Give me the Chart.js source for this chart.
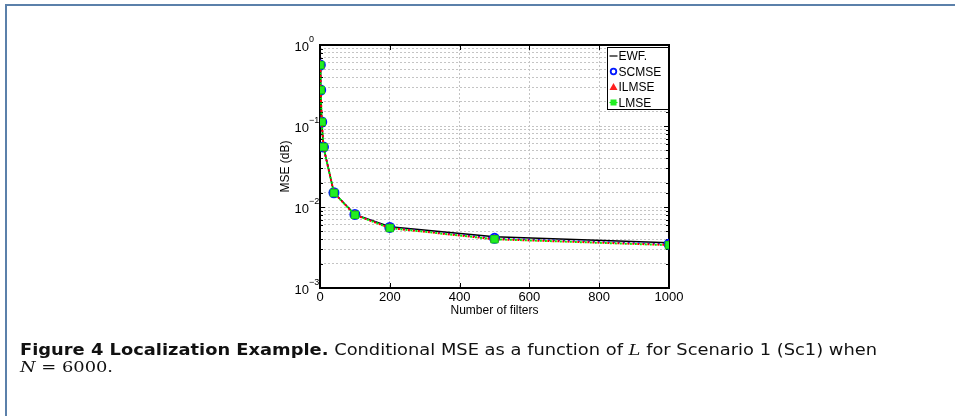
<!DOCTYPE html>
<html><head><meta charset="utf-8">
<script src="https://cdn.jsdelivr.net/npm/chart.js@4"></script>
<style>
html,body{margin:0;padding:0;background:#fff}
body{width:955px;height:416px;overflow:hidden;position:relative}
#ftop{position:absolute;left:5px;top:4px;width:950px;height:2px;background:#5b80aa}
#fleft{position:absolute;left:5px;top:4px;width:2px;height:412px;background:#5b80aa}
#wrap{position:absolute;left:0;top:0;width:955px;height:416px}
#cap{position:absolute;left:20px;top:342px;font-family:"DejaVu Sans",sans-serif;font-size:15px;line-height:17px;color:#111;white-space:nowrap}
#cap div{transform-origin:0 0;display:inline-block}
#cap b{font-weight:bold}
.m{font-family:"DejaVu Serif",serif;font-style:italic}
.r{font-family:"DejaVu Serif",serif}
</style></head>
<body>
<div id="ftop"></div><div id="fleft"></div>
<div id="wrap"><canvas id="c" width="955" height="416"></canvas></div>
<div id="cap"><div id="l1"><b>Figure 4 Localization Example.</b> Conditional MSE as a function of <span class="m">L</span> for Scenario 1 (Sc1) when</div><br><div id="l2"><span class="m">N</span> <span class="r">= 6000.</span></div></div>
<script>
const filters = [1, 2, 5, 10, 40, 100, 200, 500, 1000];
const ewf   = [0.566, 0.278, 0.112, 0.055, 0.0150, 0.0081, 0.0057, 0.00428, 0.00362];
const scmse = [0.566, 0.278, 0.112, 0.055, 0.0150, 0.0081, 0.0056, 0.00410, 0.00348];
const ilmse = [0.566, 0.278, 0.112, 0.055, 0.0149, 0.0080, 0.0055, 0.00400, 0.00340];
const lmse  = [0.566, 0.278, 0.112, 0.055, 0.0149, 0.0080, 0.0055, 0.00400, 0.00338];
const seriesNames = ['EWF.', 'SCMSE', 'ILMSE', 'LMSE'];
const xTicks = [0, 200, 400, 600, 800, 1000];
const yDecades = [0, -1, -2, -3];

(function(){
  const l1 = document.getElementById('l1'), l2 = document.getElementById('l2');
  const k = 857 / l1.getBoundingClientRect().width;
  l1.style.transform = 'scaleX(' + k + ')';
  l2.style.transform = 'scaleX(' + k + ')';
})();

const pts = arr => filters.map((x, i) => ({x: x, y: arr[i]}));

const framePlugin = {
  id: 'frame',
  beforeDatasetsDraw(chart) {
    const {ctx, chartArea: a, scales} = chart;
    ctx.save();
    ctx.strokeStyle = '#000';
    ctx.lineWidth = 1;
    scales.y.ticks.forEach(t => {
      const y = Math.round(scales.y.getPixelForValue(t.value)) + 0.5;
      const major = Math.abs(Math.log10(t.value) - Math.round(Math.log10(t.value))) < 1e-6;
      const len = major ? 5 : 3;
      ctx.beginPath();
      ctx.moveTo(a.left, y); ctx.lineTo(a.left + len, y);
      ctx.moveTo(a.right, y); ctx.lineTo(a.right - len, y);
      ctx.stroke();
    });
    xTicks.forEach(v => {
      const x = Math.round(scales.x.getPixelForValue(v)) + 0.5;
      ctx.beginPath();
      ctx.moveTo(x, a.bottom); ctx.lineTo(x, a.bottom - 5);
      ctx.moveTo(x, a.top); ctx.lineTo(x, a.top + 5);
      ctx.stroke();
    });
    ctx.lineWidth = 2;
    ctx.strokeRect(a.left, a.top, a.right - a.left, a.bottom - a.top);
    ctx.restore();
  },
  afterDraw(chart) {
    const {ctx, scales} = chart;
    ctx.save();
    ctx.fillStyle = '#000';
    yDecades.forEach(k => {
      const y = scales.y.getPixelForValue(Math.pow(10, k));
      ctx.font = '13px "Liberation Sans", Arial, sans-serif';
      ctx.textAlign = 'right'; ctx.textBaseline = 'middle';
      ctx.fillText('10', 309, y + 2);
      ctx.font = '9px "Liberation Sans", Arial, sans-serif';
      ctx.textAlign = 'left';
      ctx.fillText(k === 0 ? '0' : '\u2212' + (-k), 309, y - 5);
    });
    const lx = 607.5, ly = 47.5, lw = 61, lh = 62;
    ctx.fillStyle = '#fff';
    ctx.fillRect(lx, ly, lw, lh);
    ctx.strokeStyle = '#000'; ctx.lineWidth = 1;
    ctx.strokeRect(lx, ly, lw, lh);
    ctx.font = '12px "Liberation Sans", Arial, sans-serif';
    ctx.textBaseline = 'middle'; ctx.textAlign = 'left';
    chart.data.datasets.forEach((ds, i) => {
      const cy = ly + 8.5 + i * 15.5;
      const mx = lx + 6;
      ctx.save();
      if (i === 0) {
        ctx.strokeStyle = '#000'; ctx.lineWidth = 1.2;
        ctx.beginPath(); ctx.moveTo(lx + 2, cy); ctx.lineTo(lx + 10, cy); ctx.stroke();
      } else if (i === 1) {
        ctx.strokeStyle = ds.pointBorderColor; ctx.lineWidth = 1.8;
        ctx.beginPath(); ctx.arc(mx, cy, 2.8, 0, Math.PI * 2); ctx.stroke();
      } else if (i === 2) {
        ctx.fillStyle = ds.pointBackgroundColor;
        ctx.beginPath(); ctx.moveTo(mx, cy - 4); ctx.lineTo(mx + 4, cy + 3); ctx.lineTo(mx - 4, cy + 3); ctx.closePath(); ctx.fill();
      } else {
        ctx.strokeStyle = ds.borderColor; ctx.lineWidth = 1.2;
        ctx.beginPath(); ctx.moveTo(lx + 2, cy); ctx.lineTo(lx + 10, cy); ctx.stroke();
        ctx.fillStyle = ds.pointBackgroundColor; ctx.fillRect(mx - 3, cy - 3, 6, 6);
      }
      ctx.restore();
      ctx.fillStyle = '#000';
      ctx.fillText(ds.label, lx + 11, cy + 1);
    });
    ctx.restore();
  }
};

new Chart(document.getElementById('c'), {
  type: 'line',
  data: {
    datasets: [
      {label: seriesNames[0], data: pts(ewf), borderColor: '#000', borderWidth: 1.5, pointRadius: 0, fill: false, order: 4},
      {label: seriesNames[1], data: pts(scmse), borderColor: '#0018ff', backgroundColor: 'rgba(0,0,0,0)', pointBackgroundColor: 'rgba(0,0,0,0)', borderWidth: 1.5, borderDash: [2, 3], pointStyle: 'circle', pointRadius: 4.5, pointBorderWidth: 2, pointBorderColor: '#0018ff', order: 3},
      {label: seriesNames[2], data: pts(ilmse), borderColor: '#ff0000', pointBackgroundColor: '#ff2020', pointBorderColor: '#ff2020', borderWidth: 2, borderDash: [2, 3], borderDashOffset: 0, pointStyle: 'triangle', pointRadius: 4.5, pointBorderWidth: 1, order: 2},
      {label: seriesNames[3], data: pts(lmse), borderColor: '#00ee00', pointBackgroundColor: '#22ee22', pointBorderColor: '#11cc11', borderWidth: 2, borderDash: [2, 3], borderDashOffset: 2.5, pointStyle: 'rect', pointRadius: 5.2, pointBorderWidth: 1, order: 1}
    ]
  },
  options: {
    responsive: false,
    animation: false,
    devicePixelRatio: 1,
    layout: {padding: {left: 278, right: 286, top: 45, bottom: 98}},
    plugins: {legend: {display: false}, tooltip: {enabled: false}},
    elements: {line: {tension: 0}},
    scales: {
      x: {
        type: 'linear', min: 0, max: 1000,
        afterFit: s => { s.height = 30; },
        afterBuildTicks: s => { s.ticks = xTicks.map(v => ({value: v})); },
        grid: {color: '#c4c4c4', lineWidth: 1, drawTicks: false},
        border: {display: false, dash: [2, 2]},
        ticks: {color: '#000', font: {family: '"Liberation Sans", Arial, sans-serif', size: 13}, padding: 2, maxRotation: 0, callback: v => String(v)},
        title: {display: true, text: 'Number of filters', color: '#000', font: {family: '"Liberation Sans", Arial, sans-serif', size: 12}, padding: {top: -4, bottom: 0}}
      },
      y: {
        type: 'logarithmic', min: 0.001, max: 1,
        afterFit: s => { s.width = 42; },
        grid: {color: '#c4c4c4', lineWidth: 1, drawTicks: false},
        border: {display: false, dash: [2, 2]},
        ticks: {display: false, autoSkip: false},
        title: {display: true, text: 'MSE (dB)', color: '#000', font: {family: '"Liberation Sans", Arial, sans-serif', size: 12}, padding: {top: 0, bottom: 0}}
      }
    }
  },
  plugins: [framePlugin]
});
</script>
</body></html>
